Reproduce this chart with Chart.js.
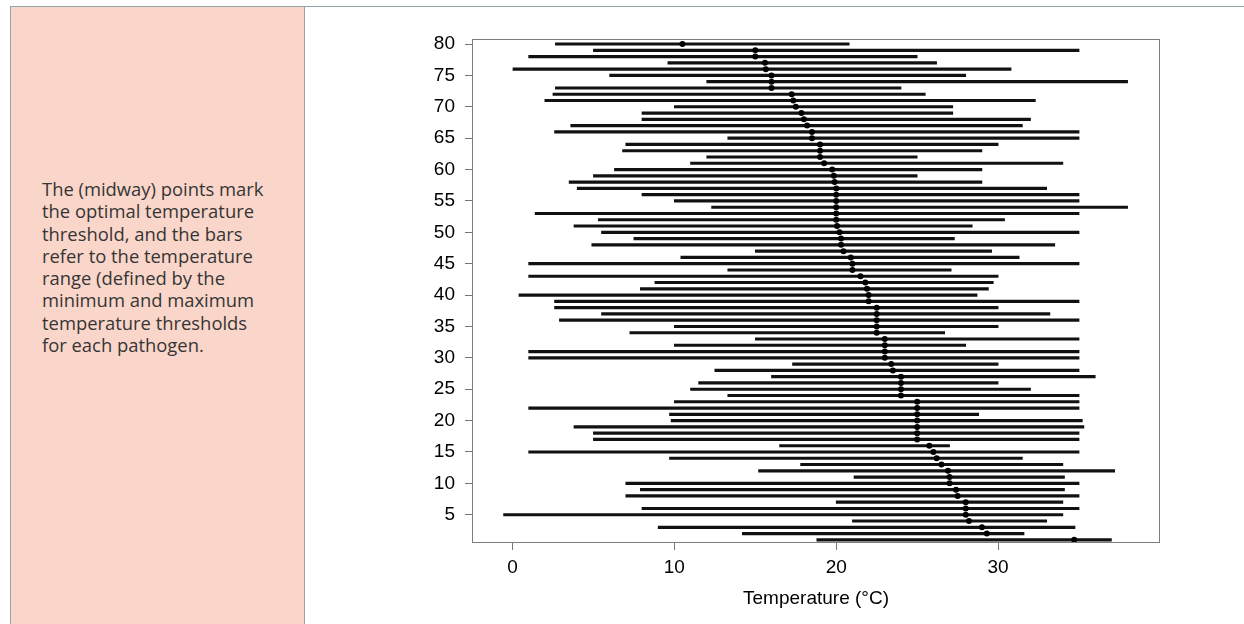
<!DOCTYPE html>
<html>
<head>
<meta charset="utf-8">
<script src="https://cdn.jsdelivr.net/npm/chart.js@4.4.0/dist/chart.umd.min.js"></script>
<style>
html, body { margin: 0; padding: 0; background: #fff; }
body { width: 1244px; height: 624px; position: relative; overflow: hidden; }
#chart { position: absolute; left: 0; top: 0; z-index: 1; }
#panel { position: absolute; left: 10px; top: 6px; width: 293px; height: 640px; background: #fad5ca;
         border-left: 1.5px solid #93a3a7; border-right: 1.5px solid #93a3a7; z-index: 2; }
#topline { position: absolute; left: 10px; top: 6px; width: 1234px; height: 0; border-top: 1.5px solid #93a3a7; z-index: 3; }
#note { position: absolute; left: 42px; top: 178px; font: 18.4px/22.3px "Open Sans", sans-serif; color: #353535; z-index: 4; }
</style>
</head>
<body>
<div id="panel"></div>
<div id="topline"></div>
<div id="note">The (midway) points mark<br>the optimal temperature<br>threshold, and the bars<br>refer to the temperature<br>range (defined by the<br>minimum and maximum<br>temperature thresholds<br>for each pathogen.</div>
<canvas id="chart" width="1244" height="624"></canvas>
<script>
// pathogen rank (1 = bottom row)
var pathogens = [1, 2, 3, 4, 5, 6, 7, 8, 9, 10,
    11, 12, 13, 14, 15, 16, 17, 18, 19, 20,
    21, 22, 23, 24, 25, 26, 27, 28, 29, 30,
    31, 32, 33, 34, 35, 36, 37, 38, 39, 40,
    41, 42, 43, 44, 45, 46, 47, 48, 49, 50,
    51, 52, 53, 54, 55, 56, 57, 58, 59, 60,
    61, 62, 63, 64, 65, 66, 67, 68, 69, 70,
    71, 72, 73, 74, 75, 76, 77, 78, 79, 80];

// minimum temperature threshold (°C)
var tMin = [18.8, 14.2, 9.0, 21.0, -0.55, 8.0, 20.0, 7.0, 7.9, 7.0,
    21.1, 15.2, 17.8, 9.7, 1.0, 16.5, 5.0, 5.0, 3.8, 9.8,
    9.7, 1.0, 10.0, 13.3, 11.0, 11.5, 16.0, 12.5, 17.3, 1.0,
    1.0, 10.0, 15.0, 7.25, 10.0, 2.9, 5.5, 2.6, 2.6, 0.4,
    7.9, 8.8, 1.0, 13.3, 1.0, 10.4, 15.0, 4.9, 7.5, 5.5,
    3.8, 5.3, 1.4, 12.3, 10.0, 8.0, 4.0, 3.5, 5.0, 6.3,
    11.0, 12.0, 6.8, 7.0, 13.3, 2.6, 3.6, 8.0, 8.0, 10.0,
    2.0, 2.5, 2.65, 12.0, 6.0, 0.0, 9.6, 1.0, 5.0, 2.65];

// maximum temperature threshold (°C)
var tMax = [37.0, 31.6, 34.75, 33.0, 34.0, 35.0, 34.0, 35.0, 34.1, 35.0,
    34.1, 37.2, 34.0, 31.5, 35.0, 27.0, 35.0, 35.0, 35.3, 35.2,
    28.8, 35.0, 35.0, 35.0, 32.0, 30.0, 36.0, 35.0, 30.0, 35.0,
    35.0, 28.0, 35.0, 26.7, 30.0, 35.0, 33.2, 30.0, 35.0, 28.7,
    29.4, 29.7, 30.0, 27.1, 35.0, 31.3, 29.6, 33.5, 27.3, 35.0,
    28.4, 30.4, 35.0, 38.0, 35.0, 35.0, 33.0, 29.0, 25.0, 29.0,
    34.0, 25.0, 29.0, 30.0, 35.0, 35.0, 31.5, 32.0, 27.2, 27.2,
    32.3, 25.5, 24.0, 38.0, 28.0, 30.8, 26.2, 25.0, 35.0, 20.8];

// optimal temperature (°C)
var tOpt = [34.7, 29.3, 29.0, 28.2, 28.0, 28.0, 28.0, 27.5, 27.4, 27.0,
    27.0, 26.9, 26.5, 26.2, 26.0, 25.75, 25.0, 25.0, 25.0, 25.0,
    25.0, 25.0, 25.0, 24.0, 24.0, 24.0, 24.0, 23.5, 23.4, 23.0,
    23.0, 23.0, 23.0, 22.5, 22.5, 22.5, 22.5, 22.5, 22.0, 22.0,
    21.9, 21.8, 21.5, 21.0, 21.0, 20.9, 20.45, 20.3, 20.3, 20.2,
    20.05, 20.0, 20.0, 20.0, 20.0, 20.0, 20.0, 19.9, 19.85, 19.75,
    19.25, 19.0, 19.0, 19.0, 18.5, 18.5, 18.2, 18.0, 17.85, 17.5,
    17.35, 17.25, 16.0, 16.0, 16.0, 15.65, 15.6, 15.0, 15.0, 10.5];

var xTicks = [0, 10, 20, 30];
var yTicks = [5, 10, 15, 20, 25, 30, 35, 40, 45, 50, 55, 60, 65, 70, 75, 80];

var ranges = pathogens.map(function (p, i) {
    return { x: [tMin[i], tMax[i]], y: p };
});
var optima = pathogens.map(function (p, i) {
    return { x: tOpt[i], y: p };
});

// plot box like R's box()
var framePlugin = {
    id: 'frame',
    afterDatasetsDraw: function (chart) {
        var a = chart.chartArea;
        var c = chart.ctx;
        c.save();
        c.strokeStyle = '#7d7d7d';
        c.lineWidth = 1;
        c.strokeRect(Math.round(a.left) + 0.5, Math.round(a.top) + 0.5,
            Math.round(a.right - a.left) - 1, Math.round(a.bottom - a.top) - 1);
        c.restore();
    }
};

Chart.defaults.font.family = '"Liberation Sans", Arial, sans-serif';
Chart.defaults.font.size = 19;
Chart.defaults.color = '#000';

var ctx = document.getElementById('chart').getContext('2d');
var chart = new Chart(ctx, {
    type: 'bar',
    data: {
        datasets: [{
            type: 'scatter',
            label: 'Optimum',
            data: optima,
            pointRadius: 3,
            pointBackgroundColor: '#000',
            pointBorderWidth: 0,
            order: 0
        }, {
            label: 'Range',
            data: ranges,
            backgroundColor: '#111',
            borderWidth: 0,
            borderSkipped: false,
            barThickness: 2.5,
            order: 1
        }]
    },
    options: {
        indexAxis: 'y',
        responsive: false,
        animation: false,
        layout: { padding: { left: 0, top: 39, right: 84, bottom: 0 } },
        plugins: {
            legend: { display: false },
            tooltip: { enabled: false }
        },
        scales: {
            x: {
                type: 'linear',
                position: 'bottom',
                min: -2.5,
                max: 40,
                offset: false,
                afterBuildTicks: function (scale) {
                    scale.ticks = xTicks.map(function (v) { return { value: v }; });
                },
                afterFit: function (scale) { scale.height = 81; },
                grid: { drawOnChartArea: false, offset: false, tickLength: 7, color: '#777' },
                border: { display: false },
                ticks: { padding: 6, maxRotation: 0 },
                title: {
                    display: true,
                    text: 'Temperature (°C)',
                    font: { size: 19 },
                    padding: { top: 0, bottom: 14 }
                }
            },
            y: {
                type: 'linear',
                min: 0.5,
                max: 80.8,
                offset: false,
                afterBuildTicks: function (scale) {
                    scale.ticks = yTicks.map(function (v) { return { value: v }; });
                },
                afterFit: function (scale) { scale.width = 472; },
                grid: { drawOnChartArea: false, offset: false, tickLength: 7, color: '#777' },
                border: { display: false },
                ticks: { padding: 10 }
            }
        }
    },
    plugins: [framePlugin]
});
</script>
</body>
</html>
